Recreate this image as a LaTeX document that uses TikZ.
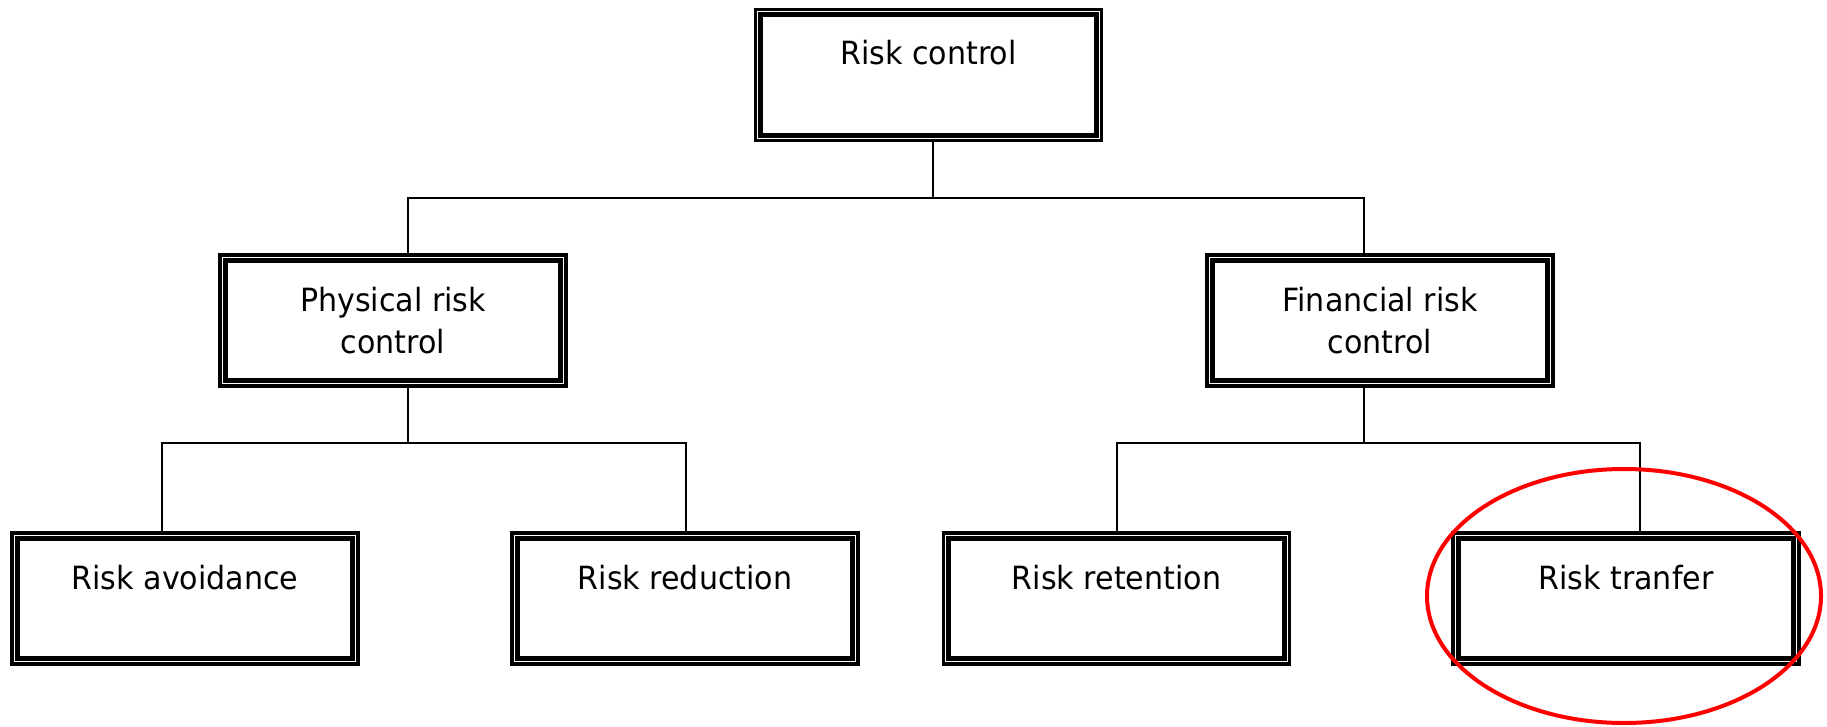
\documentclass[tikz,border=0pt]{standalone}
\usepackage{fontspec}
\newfontfamily\boxfont{DejaVu Sans}[FakeStretch=0.94]
\usetikzlibrary{calc}

% double frame: thin outer line plus a heavy inner line
\newcommand\dblbox[2]{%
  \node[outerframe] (#1) at (#2) {};
  \draw[innerframe] ([shift={(7,7)}]#1.north west) rectangle ([shift={(-7,-7)}]#1.south east);
}

\begin{document}
\begin{tikzpicture}[x=1pt, y=-1pt,
  outerframe/.style={draw, line width=3.5pt, inner sep=0pt,
    minimum width=346pt, minimum height=131pt},
  innerframe/.style={line width=5pt},
  link/.style={line width=2pt},
  lbl/.style={font=\boxfont\fontsize{32pt}{42pt}\selectfont, inner sep=0pt, anchor=base},
  ring/.style={draw=red, line width=4pt}
]
\useasboundingbox (0,0) rectangle (1827,727);

% junction points of the tree
\coordinate (j0) at (933,198);
\coordinate (j1) at (408,443);
\coordinate (j2) at (1364,443);

% boxes (placed first so the links can refer to them)
\dblbox{top}{928.5,75}
\dblbox{phys}{393,320.5}
\dblbox{fin}{1380,320.5}
\dblbox{avoid}{185,598.5}
\dblbox{reduc}{685,598.5}
\dblbox{reten}{1116.5,598.5}
\dblbox{tranf}{1626,598.5}

% links
\draw[link] (top.south -| j0) -- (j0);
\draw[link] (phys.north -| 408,0) |- (j0) -| (fin.north -| 1364,0);
\draw[link] (phys.south -| j1) -- (j1);
\draw[link] (avoid.north -| 162,0) |- (j1) -| (reduc.north -| 686,0);
\draw[link] (fin.south -| j2) -- (j2);
\draw[link] (reten.north -| 1117,0) |- (j2) -| (tranf.north -| 1640,0);

% labels
\node[lbl] (topT) at (928.5,65) {Risk control};
\node[lbl] (physT1) at (393,311) {Physical risk};
\node[lbl] (physT2) at (393,353) {control};
\node[lbl] (finT1) at (1380,311) {Financial risk};
\node[lbl] (finT2) at (1380,353) {control};
\node[lbl] (avoidT) at (185,589) {Risk avoidance};
\node[lbl] (reducT) at (685,589) {Risk reduction};
\node[lbl] (retenT) at (1116.5,589) {Risk retention};
\node[lbl] (tranfT) at (1626,589) {Risk tranfer};

% highlight ring
\draw[ring] (1624,596) ellipse [x radius=197pt, y radius=127pt];
\end{tikzpicture}
\end{document}
